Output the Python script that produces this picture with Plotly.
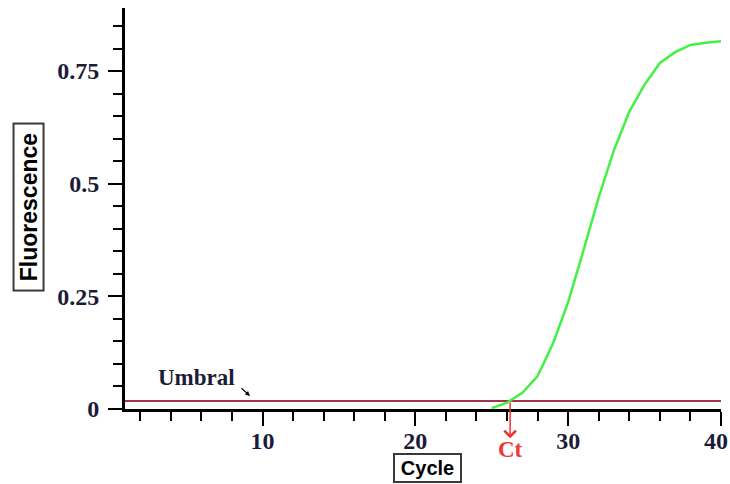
import plotly.graph_objects as go

# ---- data ----
cycles = [25, 26, 27, 28, 29, 30, 31, 32, 33, 34, 35, 36, 37, 38, 39, 40]
fluorescence = [0.002, 0.014, 0.036, 0.073, 0.145, 0.237, 0.352, 0.47, 0.575,
                0.66, 0.72, 0.768, 0.792, 0.808, 0.813, 0.816]
threshold = 0.018
ct_value = 26.2
x_range = [1, 40]
y_range = [0, 0.89]
x_tickvals = [10, 20, 30, 40]
x_ticktext = ["10", "20", "30", "40"]
y_tickvals = [0, 0.25, 0.5, 0.75]
y_ticktext = ["0", "0.25", "0.5", "0.75"]

LABEL = "#1c1c38"
SERIF = "Liberation Serif"
SANS = "Liberation Sans"
TICKFONT = dict(family=SERIF, size=24, color=LABEL, weight="bold")

fig = go.Figure()

# threshold (Umbral) line
fig.add_trace(go.Scatter(x=x_range, y=[threshold, threshold], mode="lines",
                         line=dict(color="#a3324a", width=2),
                         hoverinfo="skip", showlegend=False))
# amplification curve
fig.add_trace(go.Scatter(x=cycles, y=fluorescence, mode="lines",
                         line=dict(color="#44f044", width=2.5),
                         showlegend=False))

axis_common = dict(showgrid=False, zeroline=False, showline=True,
                   linecolor="black", linewidth=3, ticks="outside",
                   tickcolor="black", tickwidth=2, ticklen=14,
                   ticklabeloverflow="allow", automargin=False,
                   tickfont=TICKFONT)

# last x label (at the right edge) is drawn as an annotation so it stays inside
x_ticktext_axis = x_ticktext[:-1] + [""]

fig.update_xaxes(range=x_range, tickmode="array", tickvals=x_tickvals,
                 ticktext=x_ticktext_axis, ticklabelstandoff=-6,
                 minor=dict(dtick=2, tick0=0, ticks="outside", ticklen=9,
                            tickwidth=2, tickcolor="black"),
                 **axis_common)
fig.update_yaxes(range=y_range, tickmode="array", tickvals=y_tickvals,
                 ticktext=y_ticktext, ticklabelstandoff=4,
                 minor=dict(dtick=0.05, tick0=0, ticks="outside", ticklen=9,
                            tickwidth=2, tickcolor="black"),
                 **axis_common)

annotations = [
    # axis titles in boxes
    dict(text="<b>Fluorescence</b>", xref="paper", yref="paper",
         x=-0.161, y=0.5025, xanchor="center", yanchor="middle",
         showarrow=False, textangle=-90,
         font=dict(family=SANS, size=23, color="black"),
         width=163, height=26, borderpad=1, borderwidth=2,
         bordercolor="#3a3a3a", bgcolor="white"),
    dict(text="<b>Cycle</b>", xref="paper", yref="paper",
         x=0.5076, y=-0.1471, xanchor="center", yanchor="middle",
         showarrow=False,
         font=dict(family=SANS, size=20, color="black"),
         width=63, height=24, borderpad=1, borderwidth=2,
         bordercolor="#3a3a3a", bgcolor="white"),
    # right-most x tick label
    dict(text=x_ticktext[-1], xref="paper", yref="paper", x=1.0134, y=-0.0798,
         xanchor="right", yanchor="middle", showarrow=False,
         font=TICKFONT, borderpad=0),
    # Umbral label + arrow
    dict(text="<b>Umbral</b>", xref="x", yref="y", x=5.71, y=0.071,
         xanchor="center", yanchor="middle",
         showarrow=False, font=dict(family=SERIF, size=23, color=LABEL)),
    dict(text="", xref="x", yref="y", x=9.18, y=0.029, ax=-10, ay=-9,
         showarrow=True, arrowhead=2, arrowsize=0.8, arrowwidth=1.2,
         arrowcolor="black"),
    # Ct arrow + label
    dict(text="", xref="x", yref="y", x=ct_value, y=-0.065,
         axref="x", ayref="y", ax=ct_value, ay=threshold,
         showarrow=True, arrowhead=4, arrowsize=1.5, arrowwidth=1.5,
         arrowcolor="#f03030"),
    dict(text="<b>Ct</b>", xref="x", yref="paper", x=ct_value + 0.05, y=-0.102,
         xanchor="center", yanchor="middle",
         showarrow=False, font=dict(family=SERIF, size=23, color="#f03838")),
]

fig.update_layout(width=730, height=484, autosize=False,
                  margin=dict(l=125, r=9, t=8, b=75),
                  plot_bgcolor="white", paper_bgcolor="white",
                  annotations=annotations, showlegend=False)

fig.write_html("out.html")
